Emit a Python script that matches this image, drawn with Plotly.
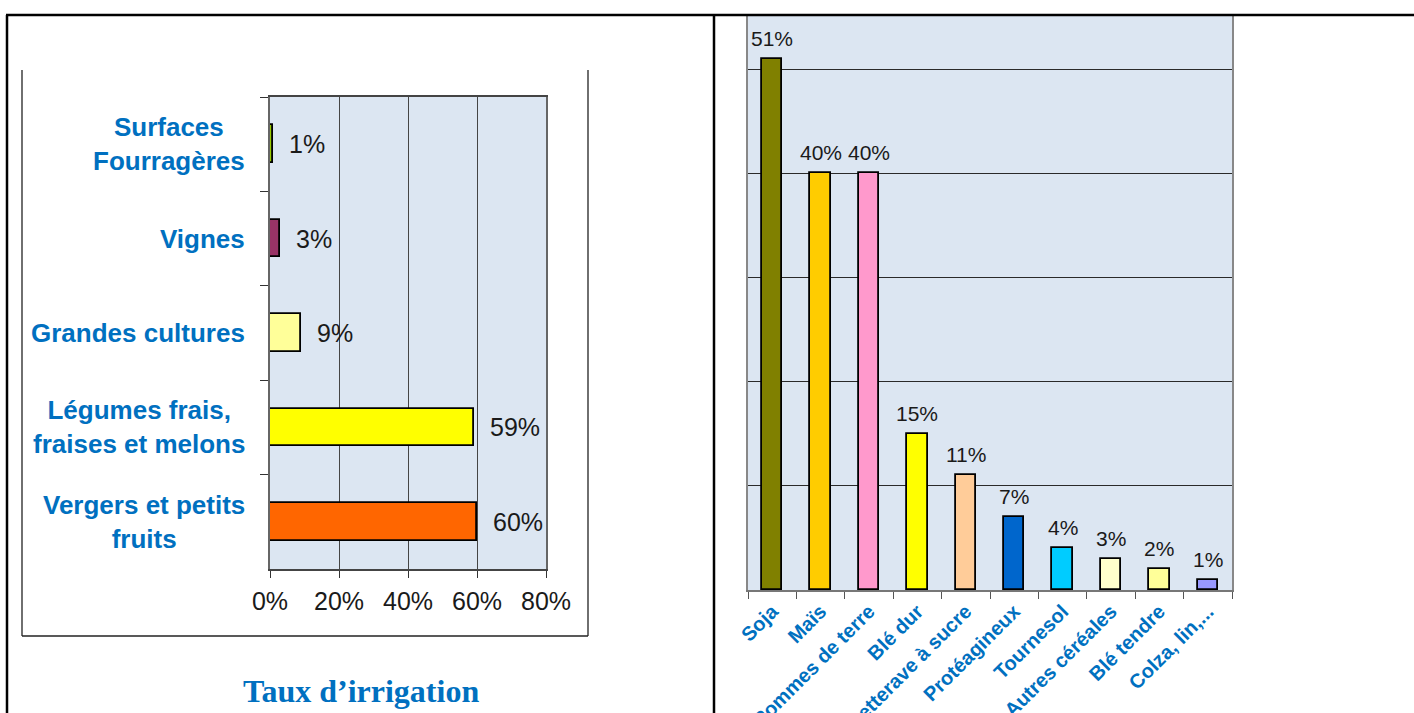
import plotly.graph_objects as go

# ---------------- data ----------------
left_categories = ["Surfaces<br>Fourragères", "Vignes", "Grandes cultures",
                   "Légumes frais,<br>fraises et melons", "Vergers et petits<br>fruits"]
left_values = [1, 3, 9, 59, 60]
left_labels = ["1%", "3%", "9%", "59%", "60%"]
left_colors = ["#99CC00", "#993366", "#FFFF99", "#FFFF00", "#FF6600"]
left_tickvals = [0, 20, 40, 60, 80]
left_ticktext = ["0%", "20%", "40%", "60%", "80%"]

right_categories = ["Soja", "Maïs", "Pommes de terre", "Blé dur", "Betterave à sucre",
                    "Protéagineux", "Tournesol", "Autres céréales", "Blé tendre", "Colza, lin,..."]
right_values = [51, 40, 40, 15, 11, 7, 4, 3, 2, 1]
right_labels = ["51%", "40%", "40%", "15%", "11%", "7%", "4%", "3%", "2%", "1%"]
right_colors = ["#808000", "#FFCC00", "#FF99CC", "#FFFF00", "#FFCC99",
                "#0066CC", "#00CCFF", "#FFFFCC", "#FFFF99", "#9999FF"]
right_gridvals = [0, 10, 20, 30, 40, 50]

title_text = "Taux d’irrigation"

# ---------------- layout helpers ----------------
W, H = 1414, 713
def px(x):
    return x / W
def py(y):
    return 1 - y / H

BLUE = "#0070C0"
BG = "#DCE6F2"
GRID = "#454545"
SANS = "Liberation Sans, Arial, sans-serif"

fig = go.Figure()

fig.add_trace(go.Bar(
    x=left_values, y=left_categories, orientation="h",
    marker=dict(color=left_colors, line=dict(color="black", width=1.8)),
    width=0.4, xaxis="x", yaxis="y", hoverinfo="x+y"))

fig.add_trace(go.Bar(
    x=right_categories, y=right_values,
    marker=dict(color=right_colors, line=dict(color="black", width=1.8)),
    width=0.42, xaxis="x2", yaxis="y2", hoverinfo="x+y"))

annotations = []
for cat, val, lab in zip(left_categories, left_values, left_labels):
    annotations.append(dict(x=val, y=cat, xref="x", yref="y", text=lab,
                            showarrow=False, xanchor="left", yanchor="middle",
                            xshift=14, font=dict(family=SANS, size=25, color="#1a1a1a")))
    annotations.append(dict(x=px(247), y=cat, xref="paper", yref="y", text=cat,
                            showarrow=False, xanchor="right", yanchor="middle",
                            align="center",
                            font=dict(family=SANS, size=26, color=BLUE, weight="bold")))
for cat, val, lab in zip(right_categories, right_values, right_labels):
    annotations.append(dict(x=cat, y=val, xref="x2", yref="y2", text=lab,
                            showarrow=False, xanchor="center", yanchor="bottom",
                            yshift=7, font=dict(family=SANS, size=21, color="#1a1a1a")))
annotations.append(dict(x=px(361), y=py(691), xref="paper", yref="paper", text=title_text,
                        showarrow=False, xanchor="center", yanchor="middle",
                        font=dict(family="Liberation Serif, Times New Roman, serif",
                                  size=32, color=BLUE, weight="bold")))

def line(x0, y0, x1, y1, w=2, c="black"):
    return dict(type="line", xref="paper", yref="paper",
                x0=px(x0), y0=py(y0), x1=px(x1), y1=py(y1),
                line=dict(color=c, width=w), layer="above")

shapes = [
    line(6, 15, W, 15, 2.5),
    line(7, 15, 7, H, 2.5),
    line(714, 15, 714, H, 2.5),
    line(22, 70, 22, 636, 1.3, "#222"),
    line(588, 70, 588, 636, 1.3, "#222"),
    line(22, 636, 588, 636, 1.3, "#222"),
]

fig.update_layout(
    width=W, height=H,
    margin=dict(l=0, r=0, t=0, b=0),
    paper_bgcolor="white",
    plot_bgcolor=BG,
    showlegend=False,
    bargap=0,
    annotations=annotations,
    shapes=shapes,
    xaxis=dict(domain=[px(270), px(546)], anchor="y", range=[0, 80],
               tickvals=left_tickvals, ticktext=left_ticktext,
               showgrid=True, gridcolor=GRID, gridwidth=1.2,
               ticks="outside", ticklen=7, tickcolor="#333", tickwidth=1.2,
               showline=True, linecolor="#444", linewidth=1.5, mirror=True,
               zeroline=False, fixedrange=True, automargin=False,
               ticklabelstandoff=2,
               tickfont=dict(family=SANS, size=25, color="#1a1a1a")),
    yaxis=dict(domain=[py(569), py(97)], anchor="x", type="category",
               autorange="reversed", tickson="boundaries",
               ticks="outside", ticklen=8, tickcolor="#333", tickwidth=1.2,
               showticklabels=False, showgrid=False,
               showline=True, linecolor="#666", linewidth=1.5, mirror=True,
               zeroline=False, fixedrange=True, automargin=False),
    xaxis2=dict(domain=[px(748), px(1232)], anchor="y2", type="category",
                tickson="boundaries", ticks="outside", ticklen=7,
                tickcolor="#555", tickwidth=1.2, tickangle=-45,
                showgrid=False, showline=True, linecolor="#777", linewidth=1.8,
                mirror=True, zeroline=False, fixedrange=True, automargin=False,
                tickfont=dict(family=SANS, size=20, color=BLUE, weight="bold")),
    yaxis2=dict(domain=[py(590), py(16)], anchor="x2", range=[0, 55.1],
                tickvals=right_gridvals, showticklabels=False,
                showgrid=True, gridcolor="#2a2a2a", gridwidth=1,
                ticks="", showline=True, linecolor="#888", linewidth=1.8,
                mirror=True, zeroline=False, fixedrange=True, automargin=False),
)

fig.write_html("out.html")
